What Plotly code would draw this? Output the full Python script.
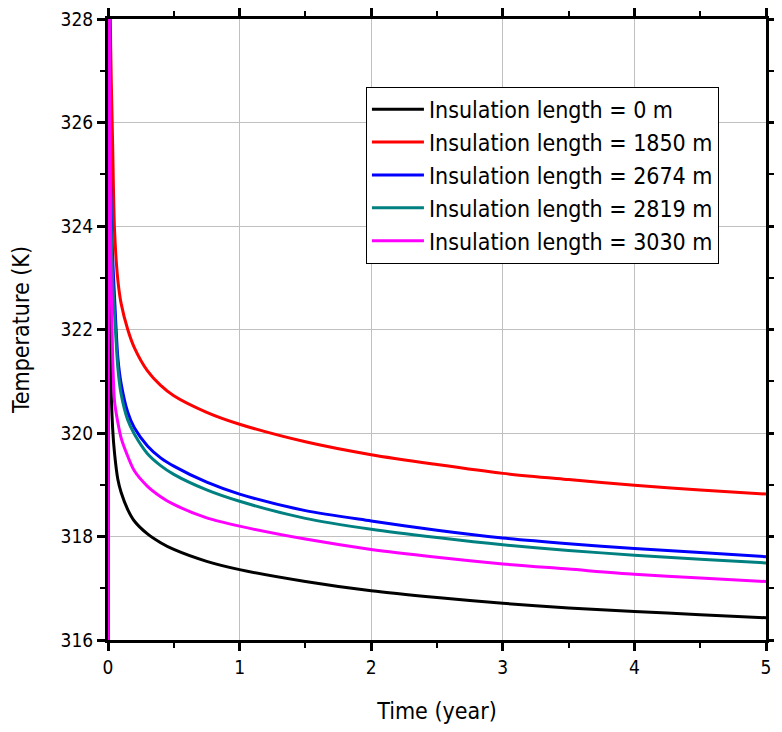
import plotly.graph_objects as go

time_year = [0, 0.003, 0.02, 0.035, 0.05, 0.075, 0.1, 0.15, 0.2, 0.3, 0.4, 0.5,
             0.75, 1.0, 1.5, 2.0, 2.5, 3.0, 3.5, 4.0, 4.5, 5.0]

temp_0m = [315.0, 332.0, 321.3, 320.1, 319.6, 319.1, 318.85, 318.52, 318.3, 318.05, 317.88, 317.75,
           317.52, 317.36, 317.13, 316.95, 316.82, 316.71, 316.62, 316.55, 316.49, 316.43]
temp_1850m = [315.0, 332.0, 327.5, 325.6, 323.9, 322.95, 322.5, 322.0, 321.65, 321.2, 320.92, 320.72,
              320.4, 320.17, 319.83, 319.58, 319.39, 319.22, 319.1, 318.99, 318.9, 318.82]
temp_2674m = [315.0, 332.0, 324.8, 323.4, 322.6, 321.45, 320.95, 320.4, 320.1, 319.75, 319.52, 319.36,
              319.05, 318.82, 318.5, 318.3, 318.12, 317.97, 317.86, 317.77, 317.69, 317.61]
temp_2819m = [315.0, 332.0, 324.5, 323.0, 322.3, 321.25, 320.75, 320.25, 319.98, 319.6, 319.37, 319.2,
              318.9, 318.68, 318.35, 318.14, 317.98, 317.84, 317.73, 317.64, 317.56, 317.49]
temp_3030m = [315.0, 332.0, 323.5, 321.5, 320.6, 320.2, 319.9, 319.55, 319.27, 318.97, 318.77, 318.62,
              318.36, 318.2, 317.95, 317.75, 317.6, 317.47, 317.37, 317.27, 317.2, 317.13]

series_names = ["Insulation length = 0 m", "Insulation length = 1850 m",
                "Insulation length = 2674 m", "Insulation length = 2819 m",
                "Insulation length = 3030 m"]
series_values = [temp_0m, temp_1850m, temp_2674m, temp_2819m, temp_3030m]
series_colors = ["#000000", "#ff0000", "#0000ff", "#008080", "#ff00ff"]

x_ticks = [0, 1, 2, 3, 4, 5]
y_ticks = [316, 318, 320, 322, 324, 326, 328]

FONT = "Liberation Sans Narrow, DejaVu Sans Condensed, Arial Narrow, sans-serif"

fig = go.Figure()
for name, vals, col in zip(series_names, series_values, series_colors):
    fig.add_trace(go.Scatter(x=time_year, y=vals, mode="lines", name=name,
                             line=dict(color=col, width=3, shape="spline", smoothing=0.8)))

axis_common = dict(
    showline=True, linecolor="black", linewidth=3, mirror="ticks",
    ticks="outside", ticklen=8, tickwidth=3, tickcolor="black",
    showgrid=True, gridcolor="#c0c0c0", gridwidth=1, zeroline=False,
    tickfont=dict(family=FONT, size=19, color="black"),
    minor=dict(ticks="outside", ticklen=5, tickwidth=2, tickcolor="black", showgrid=False),
    automargin=False, ticklabeloverflow="allow",
)

fig.update_xaxes(range=[0, 5], tickvals=x_ticks,
                 title=dict(text="Time (year)", font=dict(family=FONT, size=23, color="black"), standoff=30),
                 **axis_common)
fig.update_xaxes(minor_dtick=0.5, minor_tick0=0)
fig.update_yaxes(range=[316, 328.0001], tickvals=y_ticks,
                 title=dict(text="Temperature (K)", font=dict(family=FONT, size=23, color="black"), standoff=36),
                 **axis_common)
fig.update_yaxes(minor_dtick=1, minor_tick0=316)

fig.update_layout(
    width=766, height=716,
    margin=dict(l=100, r=8, t=11, b=84),
    plot_bgcolor="white", paper_bgcolor="white",
    legend=dict(x=0.392, y=0.891, xanchor="left", yanchor="top",
                bgcolor="white", bordercolor="black", borderwidth=1,
                font=dict(family=FONT, size=23, color="black"),
                itemwidth=52, tracegroupgap=0),
    showlegend=True,
)

fig.write_html("out.html")
